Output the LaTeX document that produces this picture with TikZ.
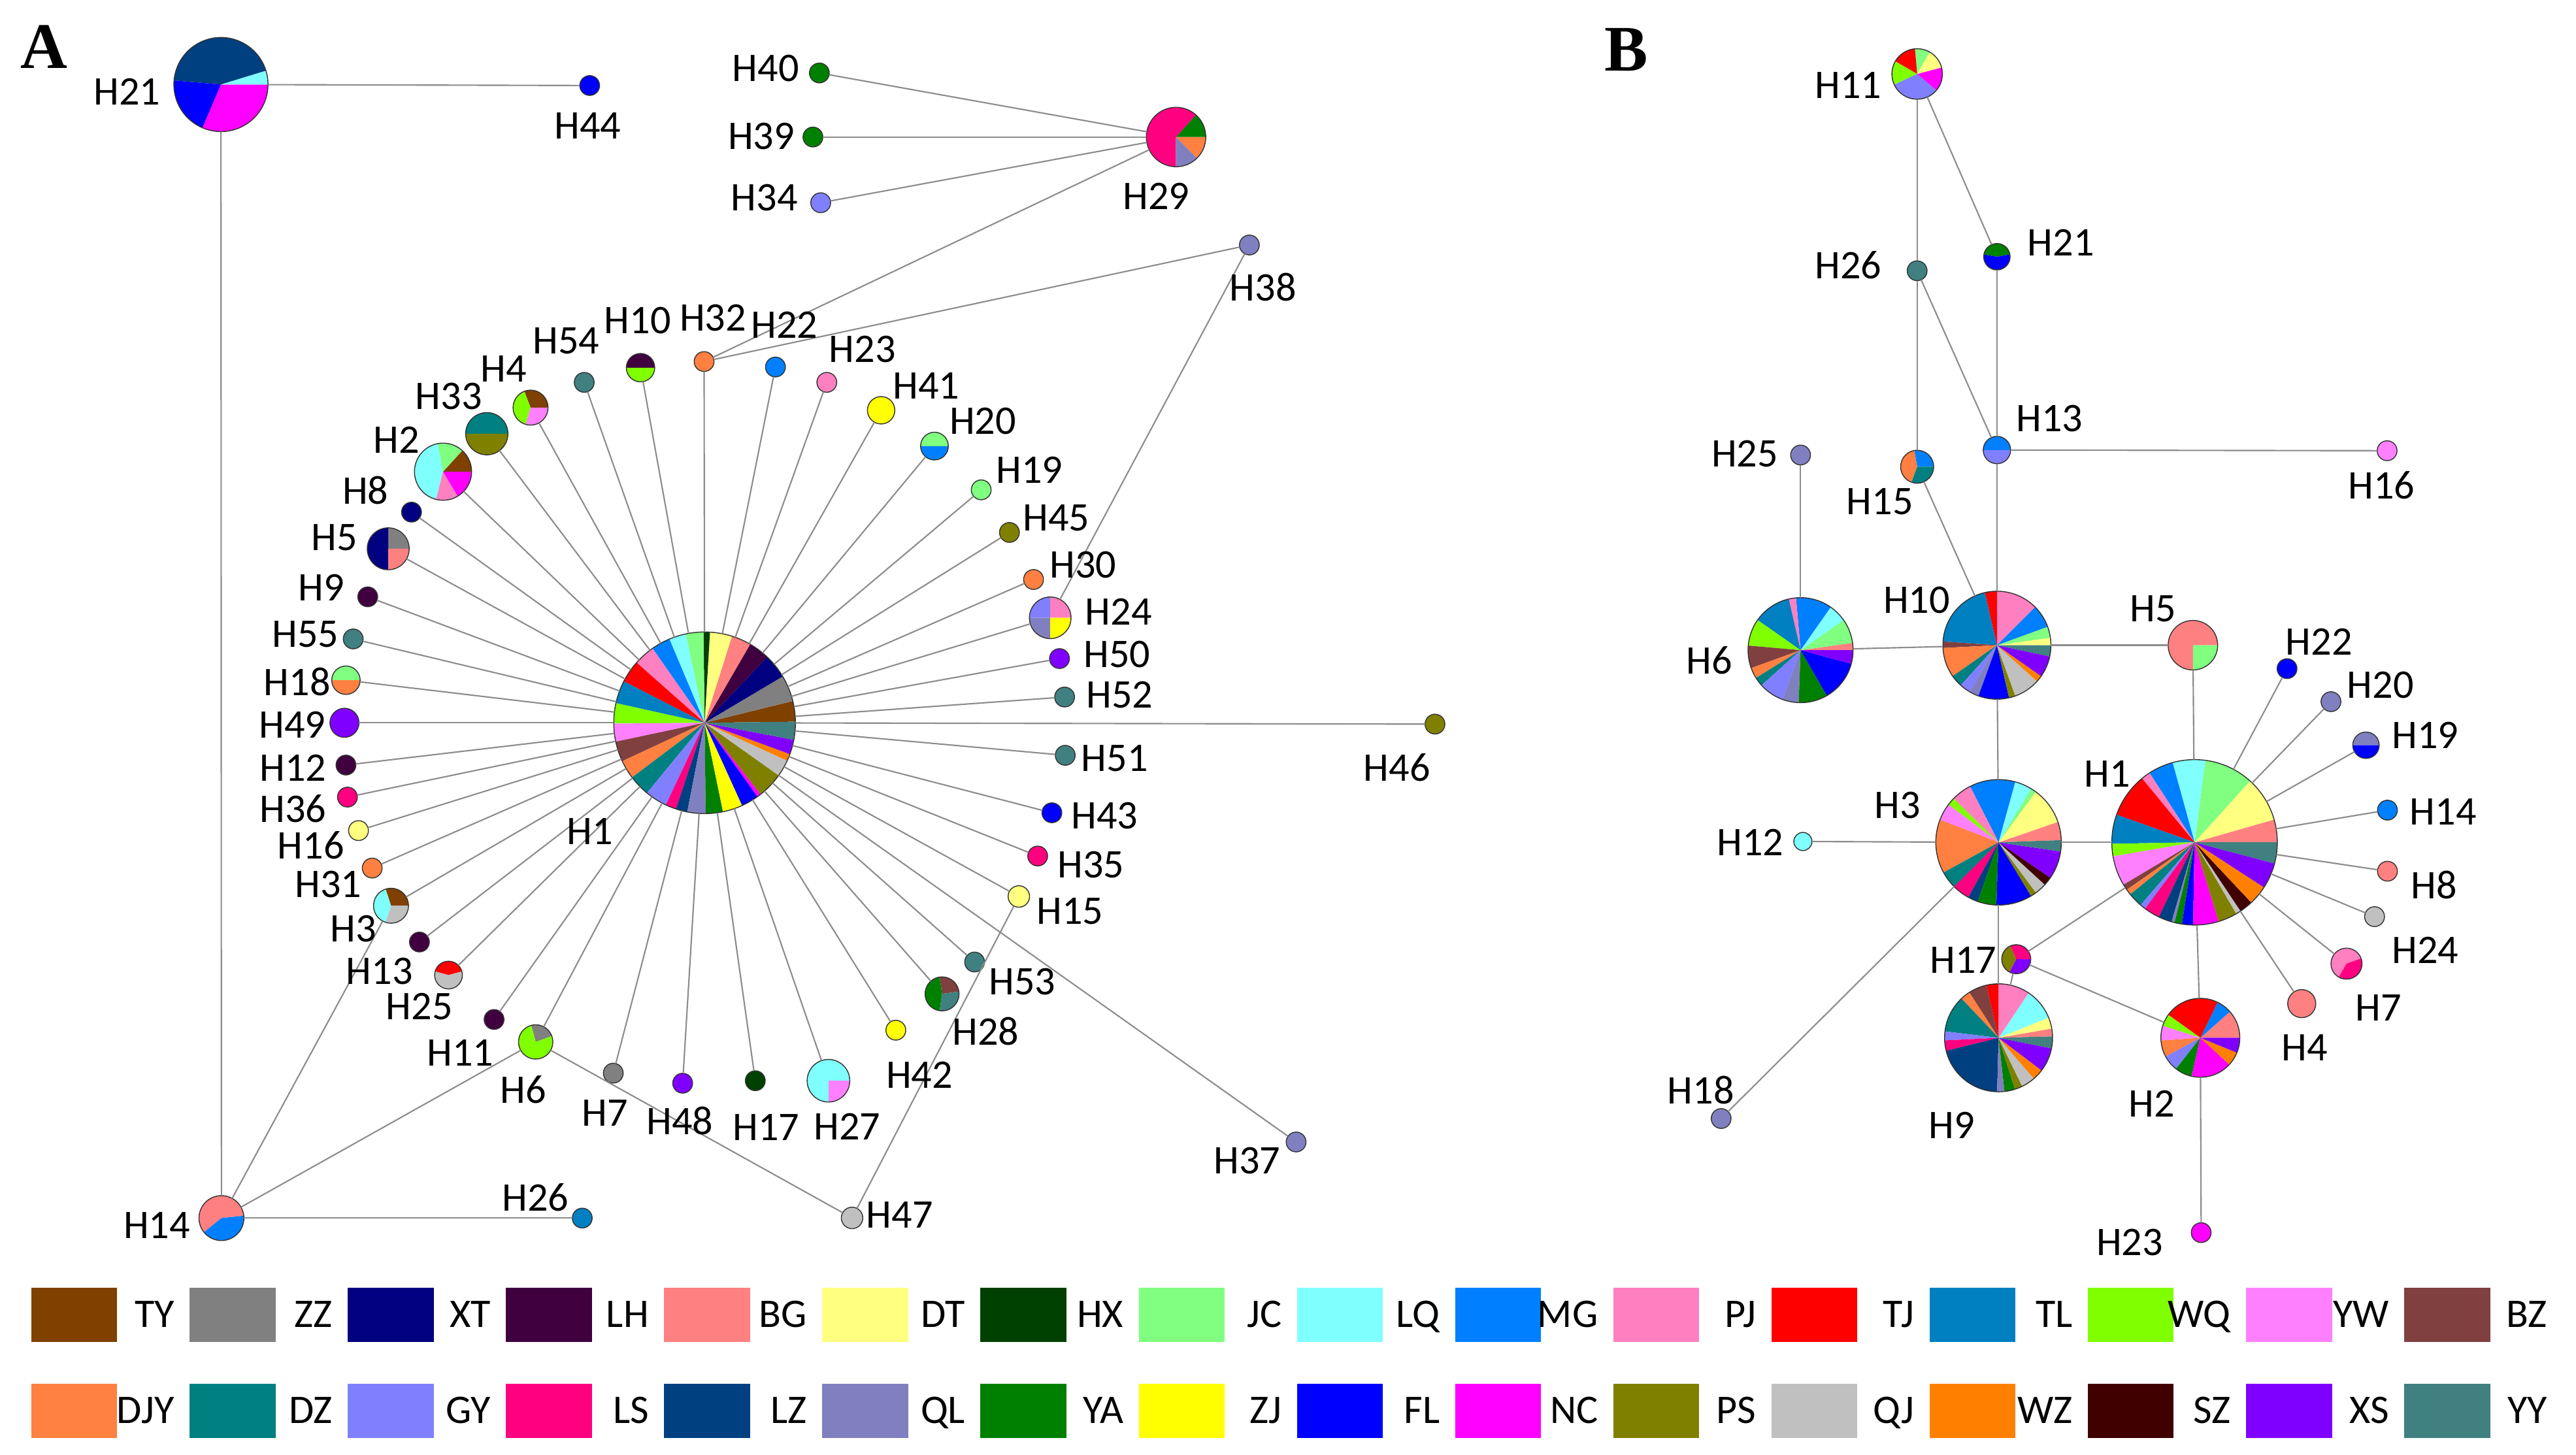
\documentclass[tikz,border=0pt]{standalone}
\usepackage{fontspec}
\setmainfont{Carlito}
\newfontfamily\panelfont{Liberation Serif}
\definecolor{cTY}{HTML}{804000}
\definecolor{cZZ}{HTML}{808080}
\definecolor{cXT}{HTML}{000080}
\definecolor{cLH}{HTML}{400040}
\definecolor{cBG}{HTML}{FF8080}
\definecolor{cDT}{HTML}{FFFF80}
\definecolor{cHX}{HTML}{004000}
\definecolor{cJC}{HTML}{80FF80}
\definecolor{cLQ}{HTML}{80FFFF}
\definecolor{cMG}{HTML}{0080FF}
\definecolor{cPJ}{HTML}{FF80C0}
\definecolor{cTJ}{HTML}{FF0000}
\definecolor{cTL}{HTML}{0080C0}
\definecolor{cWQ}{HTML}{80FF00}
\definecolor{cYW}{HTML}{FF80FF}
\definecolor{cBZ}{HTML}{804040}
\definecolor{cDJY}{HTML}{FF8040}
\definecolor{cDZ}{HTML}{008080}
\definecolor{cGY}{HTML}{8080FF}
\definecolor{cLS}{HTML}{FF0080}
\definecolor{cLZ}{HTML}{004080}
\definecolor{cQL}{HTML}{8080C0}
\definecolor{cYA}{HTML}{008000}
\definecolor{cZJ}{HTML}{FFFF00}
\definecolor{cFL}{HTML}{0000FF}
\definecolor{cNC}{HTML}{FF00FF}
\definecolor{cPS}{HTML}{808000}
\definecolor{cQJ}{HTML}{C0C0C0}
\definecolor{cWZ}{HTML}{FF8000}
\definecolor{cSZ}{HTML}{400000}
\definecolor{cXS}{HTML}{8000FF}
\definecolor{cYY}{HTML}{408080}
\definecolor{edgegray}{HTML}{8C8C8C}
\newcommand{\hap}[5]{%
  \node[hapn, minimum size={2*#4*0.025cm}] (#1) at (#2,#3) {};
  \foreach \sa/\sb/\sc in {#5}{%
    \fill[fill=\sc] (#1.center) -- ++(\sa:{#4*0.025cm}) arc[start angle=\sa, end angle=\sb, radius={#4*0.025cm}] -- cycle;}
  \draw[pieline] (#1.center) circle[radius={#4*0.025cm}];
}
\begin{document}
\begin{tikzpicture}[x=0.025cm, y=-0.025cm,
  hapn/.style={circle, inner sep=0pt, outer sep=0pt, draw=none},
  pieline/.style={draw=black!80, line width=0.4pt},
  edge/.style={draw=edgegray, line width=0.6pt},
  lbl/.style={font=\fontsize{17.5}{20}\selectfont, inner sep=0pt},
  panel/.style={font=\panelfont\bfseries\fontsize{28}{30}\selectfont, inner sep=0pt},
  legbox/.style={draw=none, minimum width=1.3cm, minimum height=0.825cm, inner sep=0pt, outer sep=0pt},
  legtxt/.style={font=\fontsize{17.5}{20}\selectfont, inner sep=0pt}]
\useasboundingbox (0,0) rectangle (1560,881);

% ---------------- Panel A ----------------
\node[panel] (pA) at (26.5,28.3) {A};
\hap{aH21}{133.8}{51.2}{28.5}{17/175/cLZ, 175/247/cFL, 247/360/cNC, 0/17/cLQ}
\hap{aH44}{357.1}{51.8}{6}{0/360/cFL}
\hap{aH29}{712.2}{83}{18}{48/270/cLS, 270/315/cQL, 315/360/cDJY, 0/48/cYA}
\hap{aH40}{496.2}{44.2}{6}{0/360/cYA}
\hap{aH39}{492.3}{83}{6}{0/360/cYA}
\hap{aH34}{497}{122.8}{6}{0/360/cGY}
\hap{aH38}{756.6}{148.4}{6}{0/360/cQL}
\hap{aH1}{426.7}{437.8}{55}{0.7/13.9/cTY, 13.9/30.7/cZZ, 30.7/46.5/cXT, 46.5/59.9/cLH, 59.9/72.5/cBG, 72.5/86.6/cDT, 86.6/90.7/cHX, 90.7/102/cJC, 102/112.8/cLQ, 112.8/125/cMG, 125/138.5/cPJ, 138.5/152.8/cTJ, 152.8/167.5/cTL, 167.5/180.5/cWQ, 180.5/192/cYW, 192/205/cBZ, 205/217/cDJY, 217/230.6/cDZ, 230.6/244.7/cGY, 244.7/251.6/cLS, 251.6/259/cLZ, 259/270.7/cQL, 270.7/281.7/cYA, 281.7/294.4/cZJ, 294.4/305.6/cFL, 305.6/308.1/cNC, 308.1/324.6/cPS, 324.6/335.3/cQJ, 335.3/339.8/cWZ, 339.8/349.2/cXS, 349.2/360.7/cYY}
\hap{aH54}{353.8}{231.6}{6}{0/360/cYY}
\hap{aH10}{387.9}{222.7}{8.6}{0/180/cLH, 180/360/cWQ}
\hap{aH32}{426.4}{219}{6}{0/360/cDJY}
\hap{aH22}{469.6}{222.3}{6}{0/360/cMG}
\hap{aH23}{500.7}{231.6}{6}{0/360/cPJ}
\hap{aH41}{533.6}{248.5}{8.3}{0/360/cZJ}
\hap{aH20}{565.9}{270.2}{8.4}{0/180/cJC, 180/360/cMG}
\hap{aH19}{594.2}{296.7}{6}{0/360/cJC}
\hap{aH45}{611.3}{322.5}{6}{0/360/cPS}
\hap{aH30}{625.9}{351}{6}{0/360/cDJY}
\hap{aH24}{636}{374.2}{12.6}{0/90/cPJ, 90/180/cGY, 180/270/cQL, 270/360/cZJ}
\hap{aH50}{641.6}{398.9}{6}{0/360/cXS}
\hap{aH52}{644.7}{422.2}{6}{0/360/cYY}
\hap{aH46}{869}{438.6}{6}{0/360/cPS}
\hap{aH51}{645.1}{457.5}{6}{0/360/cYY}
\hap{aH43}{637}{492.3}{6}{0/360/cFL}
\hap{aH35}{628.4}{518.5}{6}{0/360/cLS}
\hap{aH15}{617}{543}{6.5}{0/360/cDT}
\hap{aH37}{784.9}{691.7}{6}{0/360/cQL}
\hap{aH53}{590.2}{582.7}{6}{0/360/cYY}
\hap{aH28}{570.5}{602}{10.3}{8/98/cBZ, 98/262/cYA, 262/368/cYY}
\hap{aH42}{542.5}{624}{6}{0/360/cZJ}
\hap{aH27}{501.7}{654.6}{12.9}{0/270/cLQ, 270/360/cYW}
\hap{aH17}{457.4}{654.6}{6}{0/360/cHX}
\hap{aH48}{413.4}{656.1}{6}{0/360/cXS}
\hap{aH7}{371.4}{650}{6}{0/360/cZZ}
\hap{aH6}{324.4}{631.1}{10.4}{20/105/cZZ, 105/380/cWQ}
\hap{aH11}{299.2}{617.5}{6}{0/360/cLH}
\hap{aH25}{271.6}{590.6}{8.4}{15/165/cTJ, 165/375/cQJ}
\hap{aH13}{254}{570.6}{6}{0/360/cLH}
\hap{aH3}{236.8}{548.6}{10.6}{0/108/cTY, 108/252/cLQ, 252/360/cQJ}
\hap{aH31}{225.4}{525.8}{6}{0/360/cDJY}
\hap{aH16}{217.1}{503.1}{6}{0/360/cDT}
\hap{aH36}{210.4}{482.8}{6}{0/360/cLS}
\hap{aH12}{209.5}{463.4}{6}{0/360/cLH}
\hap{aH49}{208.6}{437.8}{8.8}{0/360/cXS}
\hap{aH18}{209.5}{412}{8.6}{0/180/cJC, 180/360/cDJY}
\hap{aH55}{213.9}{387}{6}{0/360/cYY}
\hap{aH9}{222.7}{361.5}{6}{0/360/cLH}
\hap{aH5}{235.1}{332.4}{12.7}{0/90/cZZ, 90/270/cXT, 270/360/cBG}
\hap{aH8}{249.2}{310.2}{6}{0/360/cXT}
\hap{aH2}{268.3}{285.7}{17.3}{101/256/cLQ, 256/301/cPJ, 301/360/cNC, 0/47.7/cTY, 47.7/101/cJC}
\hap{aH33}{294.8}{262.7}{12.8}{0/180/cDZ, 180/360/cPS}
\hap{aH4}{321.3}{246.9}{10.6}{0/111/cTY, 111/254/cWQ, 254/360/cYW}
\hap{aH14}{134.1}{737.8}{13.6}{6/219/cBG, 219/366/cMG}
\hap{aH26}{352.6}{737.8}{6}{0/360/cTL}
\hap{aH47}{516}{737.7}{6.5}{0/360/cQJ}

\foreach \n in {54,10,32,22,23,41,20,19,45,30,24,50,52,46,51,43,35,15,37,53,28,42,27,17,48,7,6,11,25,13,3,31,16,36,12,49,18,55,9,5,8,2,33,4}
  {\draw[edge] (aH1) -- (aH\n);}
\draw[edge] (aH21) -- (aH44);
\draw[edge] (aH21) -- (aH14);
\draw[edge] (aH14) -- (aH26);
\draw[edge] (aH14) -- (aH3);
\draw[edge] (aH14) -- (aH6);
\draw[edge] (aH6) -- (aH47);
\draw[edge] (aH47) -- (aH15);
\draw[edge] (aH29) -- (aH40);
\draw[edge] (aH29) -- (aH39);
\draw[edge] (aH29) -- (aH34);
\draw[edge] (aH29) -- (aH32);
\draw[edge] (aH32) -- (aH38);
\draw[edge] (aH38) -- (aH24);

\node[lbl] (aL21) at (77,55.7) {H21};
\node[lbl] (aL44) at (355.9,76.3) {H44};
\node[lbl] (aL40) at (463.7,41.5) {H40};
\node[lbl] (aL39) at (461,82.7) {H39};
\node[lbl] (aL34) at (462.9,119.8) {H34};
\node[lbl] (aL29) at (700.2,118.7) {H29};
\node[lbl] (aL38) at (764.9,174) {H38};
\node[lbl] (aL54) at (342.9,206.6) {H54};
\node[lbl] (aL10) at (386.1,194.1) {H10};
\node[lbl] (aL32) at (431.8,192.6) {H32};
\node[lbl] (aL22) at (475.1,197) {H22};
\node[lbl] (aL23) at (522.3,211.7) {H23};
\node[lbl] (aL41) at (560.9,233.7) {H41};
\node[lbl] (aL20) at (595.2,255.1) {H20};
\node[lbl] (aL19) at (623.5,284.6) {H19};
\node[lbl] (aL45) at (639.6,313.6) {H45};
\node[lbl] (aL30) at (655.8,342.2) {H30};
\node[lbl] (aL24) at (677.4,370.4) {H24};
\node[lbl] (aL50) at (676.4,396.4) {H50};
\node[lbl] (aL52) at (678,420.9) {H52};
\node[lbl] (aL46) at (846,465) {H46};
\node[lbl] (aL51) at (675,459.5) {H51};
\node[lbl] (aL43) at (668.9,494.1) {H43};
\node[lbl] (aL35) at (660.7,523.8) {H35};
\node[lbl] (aL15) at (648,551.8) {H15};
\node[lbl] (aL37) at (755.3,702.9) {H37};
\node[lbl] (aL53) at (619.1,594.5) {H53};
\node[lbl] (aL28) at (597,624.6) {H28};
\node[lbl] (aL42) at (556.8,651.1) {H42};
\node[lbl] (aL27) at (513,682.4) {H27};
\node[lbl] (aL17) at (464,683) {H17};
\node[lbl] (aL48) at (411.8,678.8) {H48};
\node[lbl] (aL7) at (366.4,674.2) {H7};
\node[lbl] (aL6) at (316.9,659.9) {H6};
\node[lbl] (aL11) at (278.8,637.9) {H11};
\node[lbl] (aL25) at (254,609.7) {H25};
\node[lbl] (aL13) at (229.8,588.3) {H13};
\node[lbl] (aL3) at (213.9,562.5) {H3};
\node[lbl] (aL31) at (198.9,535.6) {H31};
\node[lbl] (aL16) at (188.3,512) {H16};
\node[lbl] (aL36) at (177.5,490) {H36};
\node[lbl] (aL12) at (177.5,465) {H12};
\node[lbl] (aL49) at (177,439) {H49};
\node[lbl] (aL18) at (180,413) {H18};
\node[lbl] (aL55) at (185,384) {H55};
\node[lbl] (aL9) at (194.5,356) {H9};
\node[lbl] (aL5) at (202.4,325.4) {H5};
\node[lbl] (aL8) at (221.3,296.8) {H8};
\node[lbl] (aL2) at (240,266.3) {H2};
\node[lbl] (aL33) at (271.8,239.9) {H33};
\node[lbl] (aL4) at (304.9,223.3) {H4};
\node[lbl] (aL1) at (357.3,503.6) {H1};
\node[lbl] (aL14) at (95,742) {H14};
\node[lbl] (aL26) at (324.2,725.3) {H26};
\node[lbl] (aL47) at (544.8,735.9) {H47};

% ---------------- Panel B ----------------
\node[panel] (pB) at (985,30) {B};
\hap{bH11}{1161}{44.8}{15.3}{60/95/cJC, 95/150/cTJ, 150/205/cWQ, 205/320/cGY, 320/375/cNC, 15/60/cDT}
\hap{bH26}{1161}{164}{6}{0/360/cYY}
\hap{bH21}{1209.3}{155.5}{8}{10/170/cYA, 170/370/cFL}
\hap{bH13}{1209.3}{272.6}{8.3}{0/180/cMG, 180/360/cGY}
\hap{bH16}{1445.6}{273}{6}{0/360/cYW}
\hap{bH25}{1090.4}{275.6}{6}{0/360/cQL}
\hap{bH15}{1161}{282.7}{10}{0/100/cMG, 100/250/cDJY, 250/360/cDZ}
\hap{bH10}{1209.3}{390.8}{32.7}{0/8/cDT, 8/20/cJC, 20/45/cMG, 45/90/cPJ, 90/103/cTJ, 103/176/cTL, 176/183/cBZ, 183/215/cDJY, 215/228/cDZ, 228/240/cGY, 240/250/cQL, 250/283/cFL, 283/290/cPS, 290/318/cQJ, 318/325/cWZ, 325/348/cXS, 348/360/cYY}
\hap{bH6}{1090.4}{393.8}{31.8}{0/8/cBG, 8/35/cJC, 35/55/cLQ, 55/95/cMG, 95/103/cPJ, 103/145/cTL, 145/175/cWQ, 175/200/cBZ, 200/212/cDJY, 212/222/cDZ, 222/250/cGY, 250/268/cQL, 268/300/cYA, 300/345/cFL, 345/360/cXS}
\hap{bH5}{1328}{390.8}{15}{0/270/cBG, 270/360/cJC}
\hap{bH22}{1385}{405}{6}{0/360/cFL}
\hap{bH20}{1411.6}{425}{6}{0/360/cQL}
\hap{bH19}{1432.8}{451.4}{8}{0/180/cQL, 180/360/cFL}
\hap{bH14}{1445.8}{490.7}{6}{0/360/cMG}
\hap{bH8}{1445.8}{527.7}{6}{0/360/cBG}
\hap{bH24}{1438}{555.2}{6}{0/360/cQJ}
\hap{bH7}{1421}{583.7}{9.4}{20/240/cPJ, 240/380/cLS}
\hap{bH4}{1393.9}{607.9}{8.5}{0/360/cBG}
\hap{bH1}{1329}{510.2}{50.1}{0/16/cBG, 16/47.9/cDT, 47.9/82.5/cJC, 82.5/105.4/cLQ, 105.4/123/cMG, 123/129.4/cPJ, 129.4/160.5/cTJ, 160.5/181/cTL, 181/189.8/cWQ, 189.8/210.8/cYW, 210.8/215/cBZ, 215/219/cDJY, 219/229.3/cDZ, 229.3/233.3/cGY, 233.3/244.4/cLS, 244.4/253.9/cLZ, 253.9/256/cQL, 256/261.2/cYA, 261.2/269/cFL, 269/286.9/cNC, 286.9/300.3/cPS, 300.3/303.8/cQJ, 303.8/313.3/cSZ, 313.3/327/cWZ, 327/345.2/cXS, 345.2/360/cYY}
\hap{bH3}{1210.3}{510.2}{38}{2/19/cBG, 19/53.7/cDT, 53.7/58.7/cJC, 58.7/74.6/cLQ, 74.6/117/cMG, 117/135.8/cPJ, 135.8/143/cWQ, 143/158.9/cYW, 158.9/208.8/cDJY, 208.8/225/cDZ, 225/241.2/cLS, 241.2/250.7/cLZ, 250.7/268/cYA, 268/301.2/cFL, 301.2/306.6/cPS, 306.6/317.5/cQJ, 317.5/325.6/cSZ, 325.6/351.6/cXS, 351.6/362/cYY}
\hap{bH12}{1091.8}{509.7}{5.5}{0/360/cLQ}
\hap{bH17}{1221}{581}{8.8}{0/114/cLS, 114/243/cPS, 243/360/cXS}
\hap{bH9}{1210.3}{628.6}{32.7}{1.5/9.9/cBG, 9.9/22/cDT, 22/56.2/cLQ, 56.2/90/cPJ, 90/103/cTJ, 103/122.8/cBZ, 122.8/133.4/cDJY, 133.4/173.2/cDZ, 173.2/182.8/cGY, 182.8/194/cLS, 194/268.5/cLZ, 268.5/276.3/cQL, 276.3/287.7/cYA, 287.7/296/cPS, 296/310.9/cQJ, 310.9/322.8/cWZ, 322.8/348.8/cXS, 348.8/361.5/cYY}
\hap{bH2}{1332.5}{628.6}{23.9}{0/41.5/cBG, 41.5/64.2/cMG, 64.2/144.4/cTJ, 144.4/162.3/cWQ, 162.3/184/cYW, 184/208.4/cDJY, 208.4/231.9/cGY, 231.9/257.3/cYA, 257.3/317.2/cNC, 317.2/337.8/cWZ, 337.8/360/cXS}
\hap{bH23}{1333}{746.6}{6}{0/360/cNC}
\hap{bH18}{1042.3}{677.5}{6}{0/360/cQL}

\draw[edge] (bH11) -- (bH26);
\draw[edge] (bH11) -- (bH21);
\draw[edge] (bH26) -- (bH15);
\draw[edge] (bH26) -- (bH13);
\draw[edge] (bH21) -- (bH13);
\draw[edge] (bH13) -- (bH16);
\draw[edge] (bH13) -- (bH10);
\draw[edge] (bH15) -- (bH10);
\draw[edge] (bH25) -- (bH6);
\draw[edge] (bH6) -- (bH10);
\draw[edge] (bH10) -- (bH5);
\draw[edge] (bH10) -- (bH3);
\draw[edge] (bH5) -- (bH1);
\draw[edge] (bH3) -- (bH1);
\draw[edge] (bH12) -- (bH3);
\draw[edge] (bH3) -- (bH18);
\draw[edge] (bH3) -- (bH9);
\draw[edge] (bH17) -- (bH1);
\draw[edge] (bH17) -- (bH2);
\draw[edge] (bH17) -- (bH9);
\draw[edge] (bH1) -- (bH2);
\draw[edge] (bH2) -- (bH23);
\foreach \n in {22,20,19,14,8,24,7,4}
  {\draw[edge] (bH1) -- (bH\n);}

\node[lbl] (bL11) at (1119.3,51.5) {H11};
\node[lbl] (bL26) at (1119.3,160.5) {H26};
\node[lbl] (bL21) at (1248.1,147) {H21};
\node[lbl] (bL13) at (1241.2,253.4) {H13};
\node[lbl] (bL16) at (1442.2,293.8) {H16};
\node[lbl] (bL25) at (1056.6,275) {H25};
\node[lbl] (bL15) at (1138.4,303.9) {H15};
\node[lbl] (bL10) at (1160.7,363.5) {H10};
\node[lbl] (bL6) at (1035.2,399.9) {H6};
\node[lbl] (bL5) at (1303.8,368.7) {H5};
\node[lbl] (bL22) at (1404.4,388.6) {H22};
\node[lbl] (bL20) at (1441.6,415) {H20};
\node[lbl] (bL19) at (1468.8,445.3) {H19};
\node[lbl] (bL14) at (1479.6,491.6) {H14};
\node[lbl] (bL8) at (1474,536.1) {H8};
\node[lbl] (bL24) at (1468.8,575.5) {H24};
\node[lbl] (bL7) at (1440.5,610.3) {H7};
\node[lbl] (bL4) at (1395.7,634.5) {H4};
\node[lbl] (bL1) at (1276.2,468.6) {H1};
\node[lbl] (bL3) at (1149,487.7) {H3};
\node[lbl] (bL12) at (1060,510.4) {H12};
\node[lbl] (bL17) at (1189,581.6) {H17};
\node[lbl] (bL9) at (1181.9,681.5) {H9};
\node[lbl] (bL2) at (1303,668.5) {H2};
\node[lbl] (bL23) at (1289.7,752.7) {H23};
\node[lbl] (bL18) at (1030,660.3) {H18};

% ---------------- Legend ----------------
\foreach \c [count=\i from 0] in {TY,ZZ,XT,LH,BG,DT,HX,JC,LQ,MG,PJ,TJ,TL,WQ,YW,BZ}{
  \node[legbox, fill=c\c] (lgA\i) at ({45+95.8*\i},796.5) {};
  \node[legtxt, anchor=base east] (ltA\i) at ({10+95.8*(\i+1)},804) {\c};
}
\foreach \c [count=\i from 0] in {DJY,DZ,GY,LS,LZ,QL,YA,ZJ,FL,NC,PS,QJ,WZ,SZ,XS,YY}{
  \node[legbox, fill=c\c] (lgB\i) at ({45+95.8*\i},854.5) {};
  \node[legtxt, anchor=base east] (ltB\i) at ({10+95.8*(\i+1)},862) {\c};
}
\end{tikzpicture}
\end{document}
